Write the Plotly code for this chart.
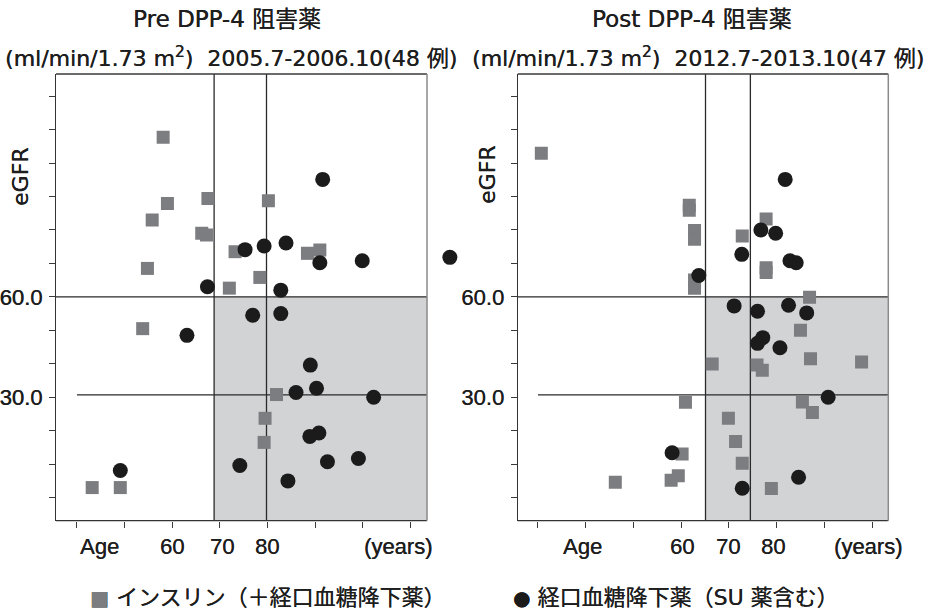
import plotly.graph_objects as go

# ---------------- data ----------------
# Pre DPP-4 (2005.7-2006.10)
pre_ins_age = [58.1, 59.0, 55.8, 67.5, 80.2, 66.2, 67.2, 73.2, 54.8, 72.0, 78.4, 88.4, 91.0,
               53.8, 81.9, 79.5, 79.3, 43.2, 49.1]
pre_ins_egfr = [107.7, 87.9, 83.0, 89.4, 88.7, 79.0, 78.5, 73.5, 68.5, 62.6, 65.8, 73.0, 74.0,
                50.5, 30.8, 23.7, 16.5, 3.0, 3.0]
pre_oral_age = [91.6, 75.3, 79.3, 83.9, 91.0, 99.9, 118.3, 67.4, 82.8,
                76.9, 82.8, 63.1, 89.0, 90.3, 86.0, 102.3, 90.8, 88.9, 74.2, 92.6, 99.1, 49.1, 84.3]
pre_oral_egfr = [95.1, 74.1, 75.2, 76.1, 70.2, 70.8, 71.8, 63.0, 62.0,
                 54.5, 55.0, 48.5, 39.6, 32.7, 31.4, 30.0, 19.3, 18.3, 9.6, 10.7, 11.7, 8.1, 5.0]

# Post DPP-4 (2012.7-2013.10)
post_ins_age = [30.7, 61.7, 61.7, 62.8, 62.8, 77.8, 72.8, 77.8, 77.8, 62.8, 62.8, 86.9,
                85.0, 66.5, 75.9, 77.0, 87.1, 97.8, 60.9, 85.4, 87.5, 69.9, 71.4, 72.8,
                60.2, 59.4, 57.9, 46.2, 78.9]
post_ins_egfr = [102.9, 87.4, 85.9, 79.8, 77.2, 83.3, 78.2, 68.7, 67.3, 65.0, 62.6, 59.9,
                 50.0, 39.9, 39.6, 38.1, 41.5, 40.5, 28.5, 28.6, 25.4, 23.7, 16.8, 10.3,
                 13.0, 6.5, 5.2, 4.6, 2.7]
post_oral_age = [81.8, 76.7, 79.8, 72.7, 82.8, 84.1, 63.7, 71.1, 76.0, 82.5, 86.3, 77.1,
                 76.0, 80.7, 90.8, 58.1, 84.6, 72.8]
post_oral_egfr = [95.1, 80.0, 79.0, 72.7, 70.8, 70.2, 66.4, 57.3, 55.7, 57.5, 55.2, 47.8,
                  46.1, 44.8, 30.0, 13.4, 6.1, 2.8]

# reference lines
pre_age_lines = [68.8, 79.8]
post_age_lines = [65.1, 74.5]
egfr_lines = [60.0, 30.7]

y_ticks = list(range(0, 121, 10))
y_ticktext = ["30.0" if v == 30 else "60.0" if v == 60 else "" for v in y_ticks]
pre_xticks = [40, 50, 60, 70, 80, 90, 100, 110]
post_xticks = [30, 40, 50, 60, 70, 80, 90, 100]
pre_xlabels = [(44.8, "Age"), (60, "60"), (70.4, "70"), (80, "80"), (107.4, "(years)")]
post_xlabels = [(39.4, "Age"), (60.1, "60"), (69.9, "70"), (79.3, "80"), (99.2, "(years)")]

titles = ["Pre DPP-4 阻害薬", "Post DPP-4 阻害薬"]
subtitles = ["(ml/min/1.73 m<sup>2</sup>)  2005.7-2006.10(48 例)",
             "(ml/min/1.73 m<sup>2</sup>)  2012.7-2013.10(47 例)"]
legend_ins = "インスリン（＋経口血糖降下薬）"
legend_oral = "経口血糖降下薬（SU 薬含む）"

# ---------------- style ----------------
W, H = 927, 613
FONT = "Liberation Sans, Noto Sans CJK JP, sans-serif"
FONT2 = "DejaVu Sans, Noto Sans CJK JP, sans-serif"
TXT = "#1e1e1e"
SQ = "#7c7d81"
CI = "#1b1b1b"
SHADE = "#d2d3d5"
LINE = "#2a2a2a"
BOLDEN = "0.3px 0 0 #1e1e1e"

PX_PER_YR = 4.762
pre_xr = [35.6, 113.5]
post_xr = [25.75, 103.4]
yr = [-6.9, 126.6]
pre_box = [56 / W, 427 / W]
dom_pre = [56 / W, 467 / W]                       # extended so the out-of-box point shows
pre_xr_ext = [pre_xr[0], pre_xr[1] + (467 - 427) / PX_PER_YR]
dom_post = [517.7 / W, 888.3 / W]
ydom = [(H - 520.7) / H, (H - 74) / H]

fig = go.Figure()

def add_panel(xa, ya, ins_x, ins_y, oral_x, oral_y):
    fig.add_trace(go.Scatter(x=ins_x, y=ins_y, mode="markers", xaxis=xa, yaxis=ya,
                             marker=dict(symbol="square", size=13, color=SQ),
                             showlegend=False, hoverinfo="skip"))
    fig.add_trace(go.Scatter(x=oral_x, y=oral_y, mode="markers", xaxis=xa, yaxis=ya,
                             marker=dict(symbol="circle", size=15, color=CI),
                             showlegend=False, hoverinfo="skip"))

add_panel("x", "y", pre_ins_age, pre_ins_egfr, pre_oral_age, pre_oral_egfr)
add_panel("x2", "y2", post_ins_age, post_ins_egfr, post_oral_age, post_oral_egfr)

shapes = []
annotations = []
LW = 1.3

def panel_shapes(xref, yref, xr, vlines, xticks, box):
    shapes.append(dict(type="rect", xref=xref, yref=yref, x0=vlines[0], x1=xr[1],
                       y0=yr[0], y1=egfr_lines[0], fillcolor=SHADE, line_width=0, layer="below"))
    for v in vlines:
        shapes.append(dict(type="line", xref=xref, yref=yref, x0=v, x1=v, y0=yr[0], y1=yr[1],
                           line=dict(color=LINE, width=LW), layer="below"))
    shapes.append(dict(type="line", xref=xref, yref=yref, x0=xr[0], x1=xr[1],
                       y0=egfr_lines[0], y1=egfr_lines[0], line=dict(color=LINE, width=LW), layer="below"))
    shapes.append(dict(type="line", xref=xref, yref=yref, x0=xticks[0], x1=xr[1],
                       y0=egfr_lines[1], y1=egfr_lines[1], line=dict(color=LINE, width=LW), layer="below"))
    # frame: bottom, top, right
    shapes.append(dict(type="line", xref="paper", yref="paper", x0=box[0], x1=box[1],
                       y0=ydom[0], y1=ydom[0], line=dict(color="#333333", width=LW)))
    shapes.append(dict(type="line", xref="paper", yref="paper", x0=box[0], x1=box[1],
                       y0=ydom[1], y1=ydom[1], line=dict(color="#3a3a3a", width=LW)))
    shapes.append(dict(type="line", xref="paper", yref="paper", x0=box[1], x1=box[1],
                       y0=ydom[0], y1=ydom[1], line=dict(color="#8a8a8a", width=1.5)))

panel_shapes("x", "y", pre_xr, pre_age_lines, pre_xticks, pre_box)
panel_shapes("x2", "y2", post_xr, post_age_lines, post_xticks, dom_post)

label_y = (H - 546) / H
for xref, labels in (("x", pre_xlabels), ("x2", post_xlabels)):
    for xv, t in labels:
        annotations.append(dict(x=xv, y=label_y, xref=xref, yref="paper", text=t, showarrow=False,
                                xanchor="center", yanchor="middle",
                                font=dict(family=FONT, size=22, color=TXT, shadow=BOLDEN)))

for cx, t in ((227, titles[0]), (691.5, titles[1])):
    annotations.append(dict(x=cx / W, y=(H - 19.5) / H, xref="paper", yref="paper", text=t,
                            showarrow=False, xanchor="center", yanchor="middle",
                            font=dict(family=FONT2, size=23, color=TXT, shadow=BOLDEN)))
for cx, st in ((231, subtitles[0]), (698, subtitles[1])):
    annotations.append(dict(x=cx / W, y=(H - 57) / H, xref="paper", yref="paper", text=st,
                            showarrow=False, xanchor="center", yanchor="middle",
                            font=dict(family=FONT2, size=22, color=TXT, shadow=BOLDEN)))

for cx, cy in ((20, 177), (487, 175)):
    annotations.append(dict(x=cx / W, y=(H - cy) / H, xref="paper", yref="paper", text="eGFR",
                            showarrow=False, textangle=-90, xanchor="center", yanchor="middle",
                            font=dict(family=FONT2, size=22, color=TXT, shadow=BOLDEN)))

annotations.append(dict(x=88 / W, y=(H - 597) / H, xref="paper", yref="paper",
                        text=f"<span style='color:{SQ};font-size:20px'>■</span> {legend_ins}",
                        showarrow=False, xanchor="left", yanchor="middle",
                        font=dict(family=FONT2, size=22, color=TXT, shadow=BOLDEN)))
annotations.append(dict(x=511 / W, y=(H - 597) / H, xref="paper", yref="paper",
                        text=f"<span style='color:{CI};font-size:20px'>●</span> {legend_oral}",
                        showarrow=False, xanchor="left", yanchor="middle",
                        font=dict(family=FONT2, size=22, color=TXT, shadow=BOLDEN)))

xaxis_common = dict(showgrid=False, zeroline=False,
                    ticks="outside", ticklen=6, tickcolor="#3a3a3a", tickwidth=1.2,
                    showticklabels=False, tickmode="array")
yaxis_common = dict(showgrid=False, zeroline=False, showline=True, linecolor="#333333", linewidth=LW,
                    ticks="outside", ticklen=6, tickcolor="#3a3a3a", tickwidth=1.2,
                    tickmode="array", tickvals=y_ticks, ticktext=y_ticktext, range=yr, domain=ydom,
                    tickfont=dict(family=FONT, size=22, color=TXT, shadow=BOLDEN), ticklabelstandoff=2)

fig.update_layout(
    width=W, height=H, margin=dict(l=0, r=0, t=0, b=0),
    paper_bgcolor="white", plot_bgcolor="rgba(0,0,0,0)",
    xaxis=dict(xaxis_common, domain=dom_pre, range=pre_xr_ext, tickvals=pre_xticks,
               anchor="y", showline=False),
    yaxis=dict(yaxis_common, anchor="x"),
    xaxis2=dict(xaxis_common, domain=dom_post, range=post_xr, tickvals=post_xticks,
                anchor="y2", showline=False),
    yaxis2=dict(yaxis_common, anchor="x2"),
    shapes=shapes, annotations=annotations,
)

fig.write_html("out.html")
